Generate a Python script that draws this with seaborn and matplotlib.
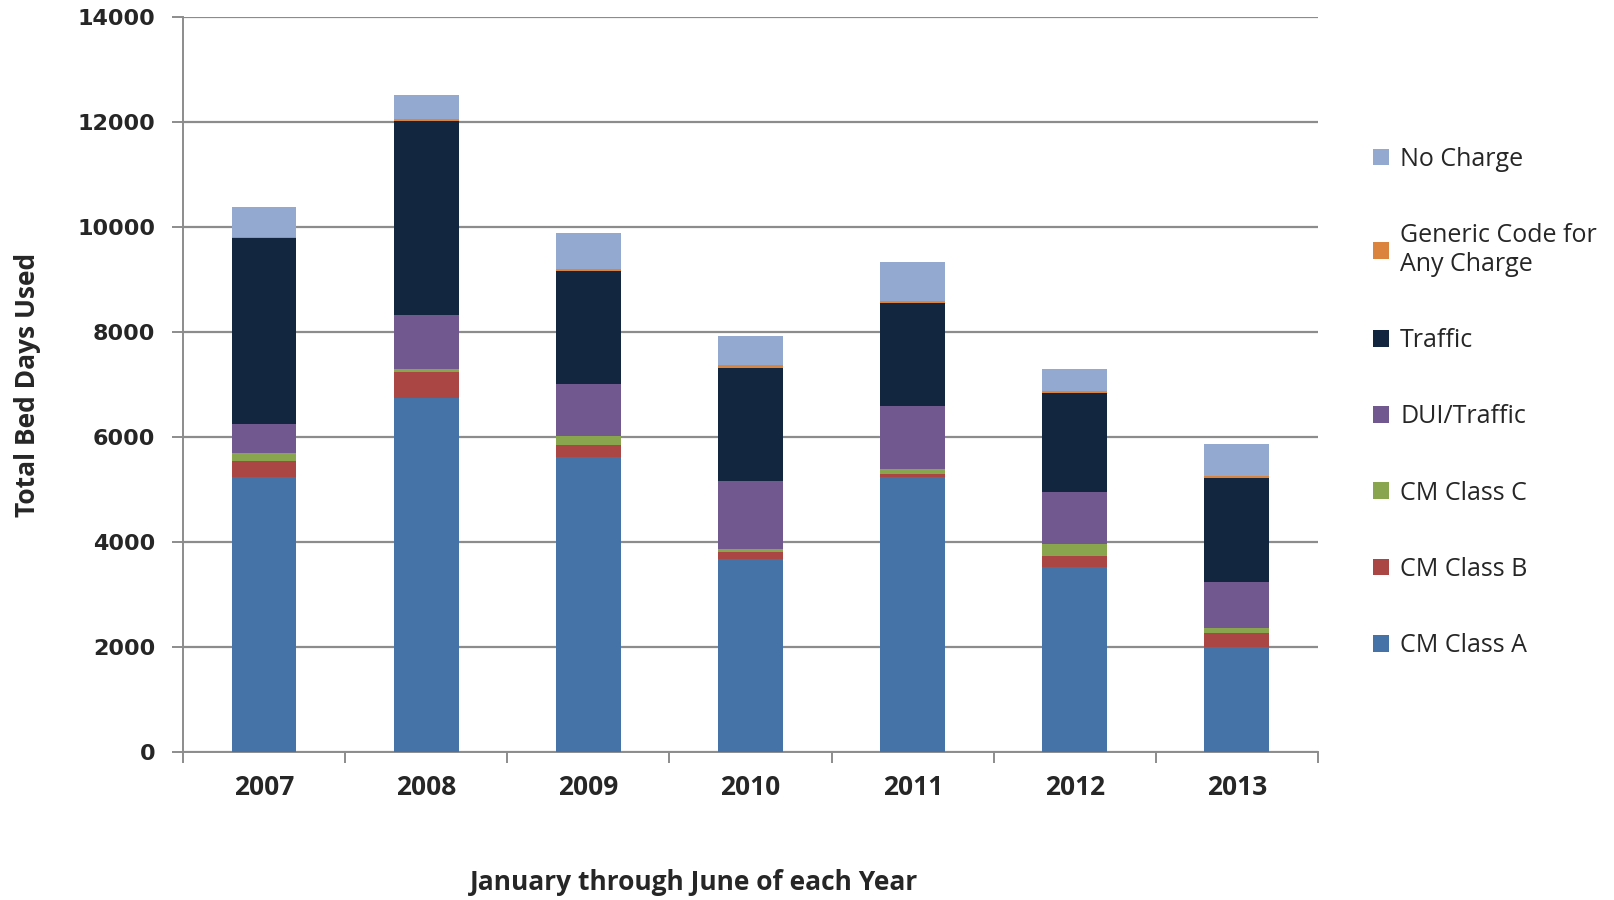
import numpy as np
import pandas as pd
import matplotlib
matplotlib.use('Agg')
import matplotlib.pyplot as plt
from matplotlib.patches import Patch
import seaborn as sns

years = ['2007', '2008', '2009', '2010', '2011', '2012', '2013']

# bed days per charge type, bottom to top of each stack
cm_class_a = [5234, 6740, 5621, 3670, 5239, 3529, 2011]
cm_class_b = [316, 507, 235, 139, 63, 210, 260]
cm_class_c = [147, 51, 159, 52, 84, 223, 89]
dui_traffic = [547, 1030, 1003, 1302, 1201, 991, 877]
traffic = [3546, 3699, 2155, 2155, 1964, 1888, 1983]
generic_code = [20, 32, 38, 51, 44, 32, 44]
no_charge = [572, 464, 686, 564, 744, 431, 599]

series_names = ['CM Class A', 'CM Class B', 'CM Class C', 'DUI/Traffic',
                'Traffic', 'Generic Code for\nAny Charge', 'No Charge']
series_values = [cm_class_a, cm_class_b, cm_class_c, dui_traffic,
                 traffic, generic_code, no_charge]
colors = ['#4572A7', '#AA4643', '#89A54E', '#71588F',
          '#12263F', '#DB843D', '#93A9CF']

df = pd.DataFrame(dict(zip(series_names, series_values)), index=years)
cum = df.cumsum(axis=1)

sns.set_style('white')
plt.rcParams['font.family'] = ['Open Sans', 'DejaVu Sans']

fig = plt.figure(figsize=(16.15, 9), dpi=100)
ax = fig.add_axes([0.1133, 0.1644, 0.7028, 0.8162])

# stacked bars: draw cumulative totals from the top layer down
for name, color in reversed(list(zip(series_names, colors))):
    sns.barplot(x=years, y=cum[name].values, color=color, width=0.4,
                saturation=1, linewidth=0, edgecolor='none', ax=ax, zorder=3)

ax.set_xlim(-0.5, 6.5)
ax.set_ylim(0, 14000)
ax.set_yticks(np.arange(0, 14001, 2000))
ax.yaxis.grid(True, color='#8c8c8c', linewidth=1.6)
ax.set_axisbelow(True)

for s in ['top', 'right']:
    ax.spines[s].set_visible(False)
for s in ['left', 'bottom']:
    ax.spines[s].set_color('#8c8c8c')
    ax.spines[s].set_linewidth(1.4)

ax.tick_params(axis='y', which='major', direction='out', length=8, width=1.4,
               color='#8c8c8c', pad=12, left=True)
ax.tick_params(axis='x', which='major', length=0, pad=16)
ax.set_xticks(np.arange(-0.5, 7, 1), minor=True)
ax.tick_params(axis='x', which='minor', direction='out', length=8, width=1.4,
               color='#8c8c8c', bottom=True)

for lbl in ax.get_yticklabels():
    lbl.set_fontfamily('DejaVu Sans')
    lbl.set_fontweight('bold')
    lbl.set_fontsize(16)
for lbl in ax.get_xticklabels():
    lbl.set_fontweight('bold')
    lbl.set_fontsize(19)

ax.set_xlabel('')
ax.set_ylabel('Total Bed Days Used', fontsize=19, fontweight='bold', labelpad=26)
fig.text(0.43, 0.02, 'January through June of each Year', ha='center',
         va='center', fontsize=19, fontweight='bold')

handles = [Patch(facecolor=c, edgecolor='none') for c in reversed(colors)]
leg = fig.legend(handles, list(reversed(series_names)), loc='upper left',
                 bbox_to_anchor=(0.836, 0.862), frameon=False, fontsize=18,
                 handlelength=0.65, handleheight=0.65, handletextpad=0.45,
                 labelspacing=2.05)

fig.savefig('out.png', dpi=100)
